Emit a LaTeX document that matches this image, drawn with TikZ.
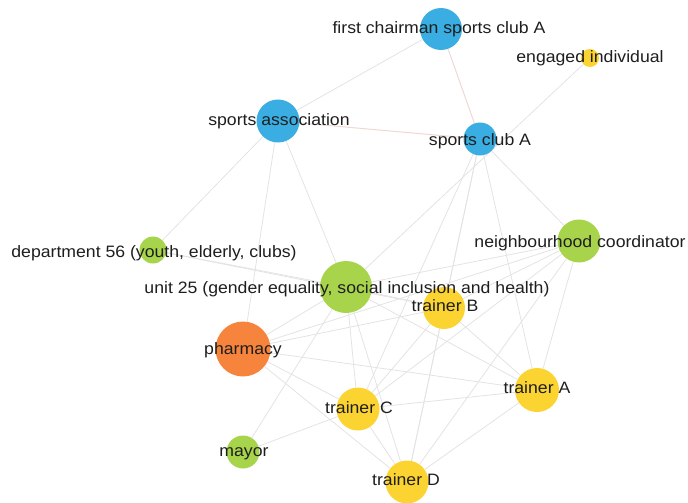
\documentclass[tikz,border=0pt]{standalone}
\usepackage{fontspec}
\setmainfont{Liberation Sans}[FakeStretch=1.07]
\definecolor{clubblue}{HTML}{3AAEE2}
\definecolor{civicgreen}{HTML}{A8D44C}
\definecolor{shoporange}{HTML}{F7843C}
\definecolor{trainyellow}{HTML}{FCD431}
\definecolor{edgegray}{HTML}{E3E3E3}
\definecolor{edgerose}{HTML}{EFD8D4}
\definecolor{labelink}{HTML}{1E1E1E}
\pgfdeclarelayer{bg}
\pgfsetlayers{bg,main}
\begin{document}
\begin{tikzpicture}[x=1pt,y=-1pt,
  actor/.style={circle,inner sep=0pt,draw=none},
  lbl/.style={anchor=base,inner sep=0pt,text=labelink,font=\fontsize{16.5}{18}\selectfont},
  tie/.style={draw=edgegray,line width=0.8pt},
  rosetie/.style={draw=edgerose,line width=1pt}]
\useasboundingbox (0,0) rectangle (688,503);

% actors
\node[actor,fill=clubblue,minimum size=42pt]    (chair)   at (441,29)  {};
\node[actor,fill=trainyellow,minimum size=18pt] (engaged) at (590,58)  {};
\node[actor,fill=clubblue,minimum size=43pt]    (assoc)   at (278,121) {};
\node[actor,fill=clubblue,minimum size=33pt]    (club)    at (480,139) {};
\node[actor,fill=civicgreen,minimum size=27pt]  (dept)    at (153,250) {};
\node[actor,fill=civicgreen,minimum size=43pt]  (coord)   at (579,241) {};
\node[actor,fill=civicgreen,minimum size=52pt]  (unit)    at (346,287) {};
\node[actor,fill=trainyellow,minimum size=42pt] (trB)     at (444,308) {};
\node[actor,fill=shoporange,minimum size=55pt]  (pharm)   at (243,349) {};
\node[actor,fill=trainyellow,minimum size=44pt] (trA)     at (537,390) {};
\node[actor,fill=trainyellow,minimum size=43pt] (trC)     at (358,409) {};
\node[actor,fill=civicgreen,minimum size=33pt]  (mayor)   at (243,452) {};
\node[actor,fill=trainyellow,minimum size=43pt] (trD)     at (407,482) {};

% ties
\begin{pgfonlayer}{bg}
\draw[tie] (chair) -- (assoc);
\draw[rosetie] (chair) -- (club);
\draw[rosetie] (assoc) -- (club);
\draw[tie] (assoc) -- (dept);
\draw[tie] (assoc) -- (pharm);
\draw[tie] (assoc) -- (unit);
\draw[tie] (engaged) -- (unit);
\draw[tie] (club) -- (coord);
\draw[tie] (club) -- (trB);
\draw[tie] (club) -- (trC);
\draw[tie] (club) -- (trD);
\draw[tie] (club) -- (trA);
\draw[tie] (dept) -- (unit);
\draw[tie] (dept) -- (trB);
\draw[tie] (coord) -- (unit);
\draw[tie] (coord) -- (trB);
\draw[tie] (coord) -- (trA);
\draw[tie] (coord) -- (trC);
\draw[tie] (coord) -- (trD);
\draw[tie] (coord) -- (pharm);
\draw[tie] (unit) -- (pharm);
\draw[tie] (unit) -- (trC);
\draw[tie] (unit) -- (trD);
\draw[tie] (unit) -- (trA);
\draw[tie] (unit) -- (trB);
\draw[tie] (pharm) -- (trB);
\draw[tie] (pharm) -- (trA);
\draw[tie] (pharm) -- (trC);
\draw[tie] (pharm) -- (trD);
\draw[tie] (mayor) -- (unit);
\draw[tie] (mayor) -- (trC);
\draw[tie] (trC) -- (trA);
\draw[tie] (trC) -- (trD);
\draw[tie] (trC) -- (trB);
\draw[tie] (trD) -- (trA);
\draw[tie] (trD) -- (trB);
\draw[tie] (trA) -- (trB);
\end{pgfonlayer}

% labels
\node[lbl] (l-chair)   at (439,34)  {first chairman sports club A};
\node[lbl] (l-engaged) at (590,63)  {engaged individual};
\node[lbl] (l-assoc)   at (279,125) {sports association};
\node[lbl] (l-club)    at (480,145) {sports club A};
\node[lbl] (l-dept)    at (154,257) {department 56 (youth, elderly, clubs)};
\node[lbl] (l-coord)   at (580,247) {neighbourhood coordinator};
\node[lbl] (l-unit)    at (347,293) {unit 25 (gender equality, social inclusion and health)};
\node[lbl] (l-trB)     at (445,311) {trainer B};
\node[lbl] (l-pharm)   at (243,354) {pharmacy};
\node[lbl] (l-trA)     at (537,393) {trainer A};
\node[lbl] (l-trC)     at (359,413) {trainer C};
\node[lbl] (l-mayor)   at (244,456) {mayor};
\node[lbl] (l-trD)     at (406,485) {trainer D};
\end{tikzpicture}
\end{document}
